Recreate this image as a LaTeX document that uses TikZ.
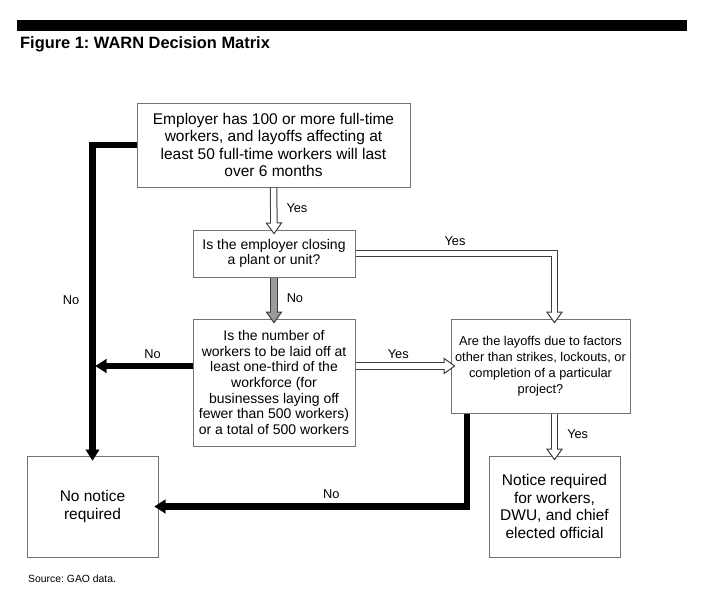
\documentclass[tikz,border=0pt]{standalone}
\usepackage{fontspec}
\setmainfont{Liberation Sans}
\usetikzlibrary{arrows.meta}
\definecolor{myboxgray}{RGB}{115,115,115}
\definecolor{mydarkline}{RGB}{60,60,60}
\definecolor{myshaftgray}{RGB}{155,155,155}
\newcommand{\sizetitle}{\fontsize{16.4}{18}\bfseries\selectfont}
\newcommand{\sizebig}{\fontsize{15.5}{17.4}\selectfont}
\newcommand{\sizemid}{\fontsize{14}{15.7}\selectfont}
\newcommand{\sizeside}{\fontsize{12.8}{16}\selectfont}
\newcommand{\sizelabel}{\fontsize{12.8}{14}\selectfont}
\newcommand{\widthsmall}{162pt}
\newcommand{\widthend}{131pt}
\frenchspacing
\tikzset{
    common/.style={draw=myboxgray, line width=1pt, rectangle, align=center, inner sep=0pt},
    bigbox/.style={common, font=\sizebig},
    midbox/.style={common, font=\sizemid, minimum width=\widthsmall},
    endbox/.style={bigbox, minimum width=\widthend, minimum height=101pt},
    lbl/.style={font=\sizelabel, inner sep=0pt},
    noarrow/.style={draw=black, line width=6.5pt, -{Triangle[length=11pt, width=14pt, line width'=0.2pt]}},
    yesarrow/.style={
        draw=mydarkline, line width=7.5pt, shorten >=-5pt,
        -{Triangle[fill=white, line width'=1pt, length=12pt, width=17pt]},
        postaction={draw=white, line width=5.5pt, -, shorten >=5.5pt, shorten <=0.5pt}
    },
    grayarrow/.style={
        draw=mydarkline, line width=7.5pt, shorten >=-5pt,
        -{Triangle[fill=myshaftgray, line width'=1pt, length=12pt, width=17pt]},
        postaction={draw=myshaftgray, line width=5.5pt, -, shorten >=5.5pt, shorten <=0.5pt}
    }
}
\begin{document}
\begin{tikzpicture}[x=1pt, y=-1pt]
    \useasboundingbox (0,0) rectangle (702,600);
    \fill (17,20) rectangle (687,31);
    \node[anchor=base west, inner sep=0pt, font=\sizetitle] (title) at (20,48.5) {Figure 1: WARN Decision Matrix};

    % boxes
    \node[bigbox, minimum width=273pt, minimum height=84pt] (employer) at (273.5,145)
        {Employer has 100 or more full-time\\workers, and layoffs affecting at\\least 50 full-time workers will last\\over 6 months};
    \node[midbox, minimum height=47pt] (closing) at (274,253.5)
        {Is the employer closing\\a plant or unit?};
    \node[midbox, minimum height=127pt] (number) at (274,382.5)
        {Is the number of\\workers to be laid off at\\least one-third of the\\workforce (for\\businesses laying off\\fewer than 500 workers)\\or a total of 500 workers};
    \node[common, font=\sizeside, minimum width=179pt, minimum height=94pt] (factors) at (540.5,366)
        {Are the layoffs due to factors\\other than strikes, lockouts, or\\completion of a particular\\project?};
    \node[endbox] (nonotice) at (92.5,506.5) {No notice\\required};
    \node[endbox] (notice) at (554.5,506.5) {Notice required\\for workers,\\DWU, and chief\\elected official};

    % connectors
    \draw[yesarrow] (employer.south) -- node[lbl, midway, right=9pt] {Yes} (closing.north);
    \draw[grayarrow] (closing.south) -- node[lbl, midway, right=9pt] {No} (number.north);
    \draw[yesarrow] (closing.east) -| node[lbl, pos=0.25, above=4pt] {Yes} (notice.north |- factors.north);
    \draw[yesarrow] (number.east |- factors.west) -- node[lbl, pos=0.45, above=4pt] {Yes} (factors.west);
    \draw[yesarrow] (notice.north |- factors.south) -- node[lbl, midway, right=9pt] {Yes} (notice.north);
    \draw[noarrow, shorten >=-5pt] (employer.west) -| node[lbl, pos=0.75, left=10pt] {No} (nonotice.north);
    \draw[noarrow, shorten >=3pt] (number.west |- factors.west) -- node[lbl, pos=0.4, above=4pt] {No} (nonotice.north |- factors.west);
    \draw[noarrow, shorten >=-4pt] ([xshift=-73.5pt]factors.south) |- node[lbl, pos=0.72, above=5pt] {No} (nonotice.east);

    \node[anchor=base west, inner sep=0pt, font=\fontsize{10.4}{12}\selectfont] (source) at (28,582.5) {Source: GAO data.};
\end{tikzpicture}
\end{document}
